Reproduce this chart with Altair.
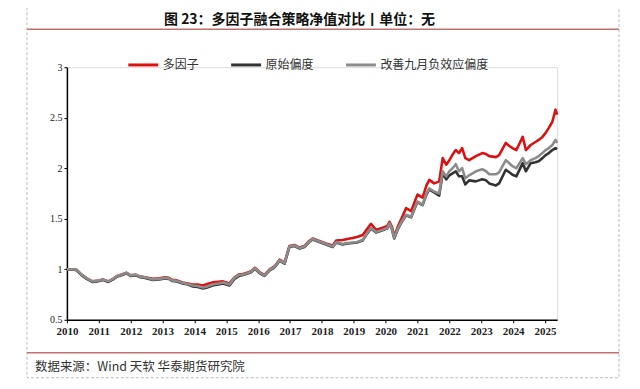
import altair as alt
import pandas as pd

# decimal years
years = [2010.00, 2010.15, 2010.30, 2010.47, 2010.62, 2010.80, 2010.95, 2011.13, 2011.30, 2011.45,
         2011.56, 2011.75, 2011.87, 2012.00, 2012.15, 2012.28, 2012.45, 2012.70, 2012.90, 2013.07,
         2013.20, 2013.30, 2013.45, 2013.63, 2013.80, 2013.95, 2014.10, 2014.27, 2014.40, 2014.57,
         2014.75, 2014.90, 2015.00, 2015.10, 2015.26, 2015.40, 2015.50, 2015.65, 2015.78, 2015.90,
         2016.05, 2016.20, 2016.36, 2016.50, 2016.57, 2016.67, 2016.83, 2016.98, 2017.14, 2017.30,
         2017.45, 2017.60, 2017.71, 2017.92, 2018.13, 2018.34, 2018.45, 2018.65, 2018.80, 2018.96,
         2019.10, 2019.28, 2019.40, 2019.54, 2019.70, 2019.90, 2020.05, 2020.12, 2020.20, 2020.27,
         2020.38, 2020.48, 2020.64, 2020.80, 2020.90, 2021.00, 2021.16, 2021.28, 2021.37, 2021.52,
         2021.68, 2021.79, 2021.90, 2022.00, 2022.10, 2022.20, 2022.30, 2022.40, 2022.50, 2022.62,
         2022.83, 2023.03, 2023.15, 2023.25, 2023.46, 2023.56, 2023.77, 2023.88, 2023.98, 2024.10,
         2024.30, 2024.40, 2024.55, 2024.70, 2024.80, 2024.92, 2025.02, 2025.12, 2025.23, 2025.33,
         2025.38]

improved = [1.00, 1.00, 0.995, 0.945, 0.91, 0.88, 0.885, 0.90, 0.88, 0.905,
            0.93, 0.95, 0.965, 0.94, 0.945, 0.93, 0.92, 0.90, 0.905, 0.915,
            0.91, 0.89, 0.885, 0.865, 0.855, 0.84, 0.835, 0.82, 0.83, 0.85,
            0.86, 0.87, 0.86, 0.85, 0.915, 0.945, 0.945, 0.96, 0.975, 1.01,
            0.965, 0.94, 0.995, 1.02, 1.045, 1.09, 1.06, 1.225, 1.235, 1.21,
            1.225, 1.275, 1.30, 1.275, 1.25, 1.225, 1.27, 1.25, 1.26, 1.265,
            1.27, 1.29, 1.35, 1.41, 1.37, 1.39, 1.41, 1.455, 1.40, 1.31,
            1.40, 1.46, 1.54, 1.52, 1.60, 1.67, 1.64, 1.75, 1.80, 1.77,
            1.75, 1.97, 1.92, 1.97, 2.00, 2.04, 1.97, 2.00, 1.90, 1.93,
            1.97, 1.99, 1.97, 1.94, 1.94, 1.96, 2.08, 2.05, 2.02, 2.00,
            2.10, 2.04, 2.08, 2.10, 2.12, 2.15, 2.18, 2.20, 2.23, 2.28,
            2.25]

original = [1.00, 1.00, 0.99, 0.94, 0.905, 0.875, 0.88, 0.895, 0.875, 0.90,
            0.925, 0.945, 0.96, 0.935, 0.94, 0.925, 0.915, 0.895, 0.90, 0.91,
            0.905, 0.885, 0.88, 0.86, 0.85, 0.83, 0.825, 0.81, 0.82, 0.84,
            0.85, 0.86, 0.85, 0.84, 0.905, 0.935, 0.94, 0.955, 0.97, 1.005,
            0.96, 0.935, 0.99, 1.015, 1.04, 1.085, 1.055, 1.22, 1.23, 1.205,
            1.22, 1.27, 1.295, 1.27, 1.245, 1.22, 1.265, 1.245, 1.255, 1.26,
            1.265, 1.285, 1.345, 1.405, 1.365, 1.385, 1.405, 1.45, 1.395, 1.305,
            1.395, 1.455, 1.535, 1.515, 1.595, 1.665, 1.635, 1.74, 1.79, 1.76,
            1.73, 1.95, 1.89, 1.93, 1.95, 1.97, 1.92, 1.92, 1.84, 1.88,
            1.87, 1.89, 1.88, 1.85, 1.83, 1.85, 1.985, 1.96, 1.935, 1.92,
            2.05, 1.97, 2.05, 2.06, 2.07, 2.10, 2.13, 2.15, 2.18, 2.20,
            2.19]

multifactor = [1.00, 1.00, 0.995, 0.945, 0.91, 0.88, 0.885, 0.90, 0.88, 0.905,
               0.93, 0.95, 0.965, 0.94, 0.945, 0.93, 0.92, 0.905, 0.91, 0.92,
               0.915, 0.895, 0.89, 0.87, 0.86, 0.85, 0.85, 0.84, 0.855, 0.87,
               0.875, 0.88, 0.87, 0.86, 0.92, 0.95, 0.95, 0.965, 0.98, 1.015,
               0.97, 0.945, 1.0, 1.025, 1.05, 1.095, 1.065, 1.23, 1.24, 1.215,
               1.23, 1.28, 1.305, 1.28, 1.255, 1.235, 1.285, 1.29, 1.30, 1.31,
               1.32, 1.34, 1.39, 1.45, 1.39, 1.41, 1.43, 1.47, 1.42, 1.325,
               1.42, 1.49, 1.605, 1.575, 1.66, 1.74, 1.71, 1.83, 1.885, 1.85,
               1.87, 2.10, 2.035, 2.08, 2.135, 2.18, 2.15, 2.20, 2.10, 2.08,
               2.12, 2.15, 2.14, 2.12, 2.11, 2.13, 2.25, 2.22, 2.20, 2.18,
               2.31, 2.18, 2.23, 2.26, 2.28, 2.31, 2.35, 2.40, 2.46, 2.58,
               2.53]

series_names = ["多因子", "原始偏度", "改善九月负效应偏度"]
series_colors = ["#DD1111", "#333333", "#8C8C8C"]
year_ticks = list(range(2010, 2026))
y_ticks = [0.5, 1, 1.5, 2, 2.5, 3]

title_text = "图 23：多因子融合策略净值对比丨单位：无"
source_text = "数据来源：Wind  天软  华泰期货研究院"

rows = []
for name, vals in zip(series_names, [multifactor, original, improved]):
    for yr, v in zip(years, vals):
        rows.append({"year": yr, "value": v, "series": name})
df = pd.DataFrame(rows)

W, H = 491, 253

x_enc = alt.X("year:Q", scale=alt.Scale(domain=[2010, 2025.38], nice=False, zero=False),
              axis=alt.Axis(values=year_ticks, format="d", title=None, grid=False,
                            labelFont="Liberation Serif", labelFontWeight="bold",
                            labelFontSize=11, labelColor="#222222", tickSize=3,
                            labelPadding=3, domainColor="#000000", tickColor="#000000",
                            domainWidth=1.5, labelFlush=False))
y_enc = alt.Y("value:Q", scale=alt.Scale(domain=[0.5, 3], nice=False, zero=False),
              axis=alt.Axis(values=y_ticks, format="~g", title=None, grid=False,
                            labelFont="Liberation Serif", labelFontSize=10,
                            labelColor="#222222", tickSize=3, labelPadding=2,
                            domainColor="#000000", tickColor="#000000", domainWidth=1.5))
color_enc = alt.Color("series:N",
                      scale=alt.Scale(domain=series_names, range=series_colors),
                      legend=alt.Legend(title=None, orient="none", direction="horizontal",
                                        legendX=60, legendY=-19, symbolType="stroke",
                                        symbolSize=900, symbolStrokeWidth=3,
                                        labelFont="Noto Sans CJK SC", labelFontSize=12,
                                        labelColor="#333333", columnPadding=25,
                                        labelOffset=3, padding=0))

layers = []
for name in series_names:
    layers.append(
        alt.Chart(df).mark_line(strokeWidth=2.6, strokeJoin="round")
        .encode(x=x_enc, y=y_enc, color=color_enc)
        .transform_filter(alt.datum.series == name)
    )

deco = pd.DataFrame({"t": [title_text]})
src = pd.DataFrame({"t": [source_text]})

border = alt.Chart(deco).mark_rect(fill=None, stroke="#BBBBBB", strokeDash=[3, 2],
                                   strokeWidth=1).encode(
    x=alt.value(-40), x2=alt.value(553), y=alt.value(-100), y2=alt.value(311))
top_rule = alt.Chart(deco).mark_rule(color="#C07272", strokeWidth=1.5).encode(
    x=alt.value(-40), x2=alt.value(553), y=alt.value(-38))
bottom_rule = alt.Chart(deco).mark_rule(color="#C07272", strokeWidth=1.5).encode(
    x=alt.value(-40), x2=alt.value(553), y=alt.value(286))
title = alt.Chart(deco).mark_text(font="Noto Sans CJK SC", fontWeight="bold", fontSize=14,
                                  color="#111111", align="center", baseline="middle").encode(
    x=alt.value(233), y=alt.value(-47), text="t:N")
source = alt.Chart(src).mark_text(font="Noto Sans CJK SC", fontSize=12.5, color="#333333",
                                  align="left", baseline="middle").encode(
    x=alt.value(-32), y=alt.value(300), text="t:N")

chart = alt.layer(border, top_rule, bottom_rule, title, source, *layers).properties(
    width=W, height=H,
    padding={"left": 59, "top": 59, "right": 75, "bottom": 60},
    autosize=alt.AutoSizeParams(type="none"),
).configure_view(stroke=None).configure(background="white")

chart.save("out.html", embed_options={"renderer": "svg", "actions": False})
